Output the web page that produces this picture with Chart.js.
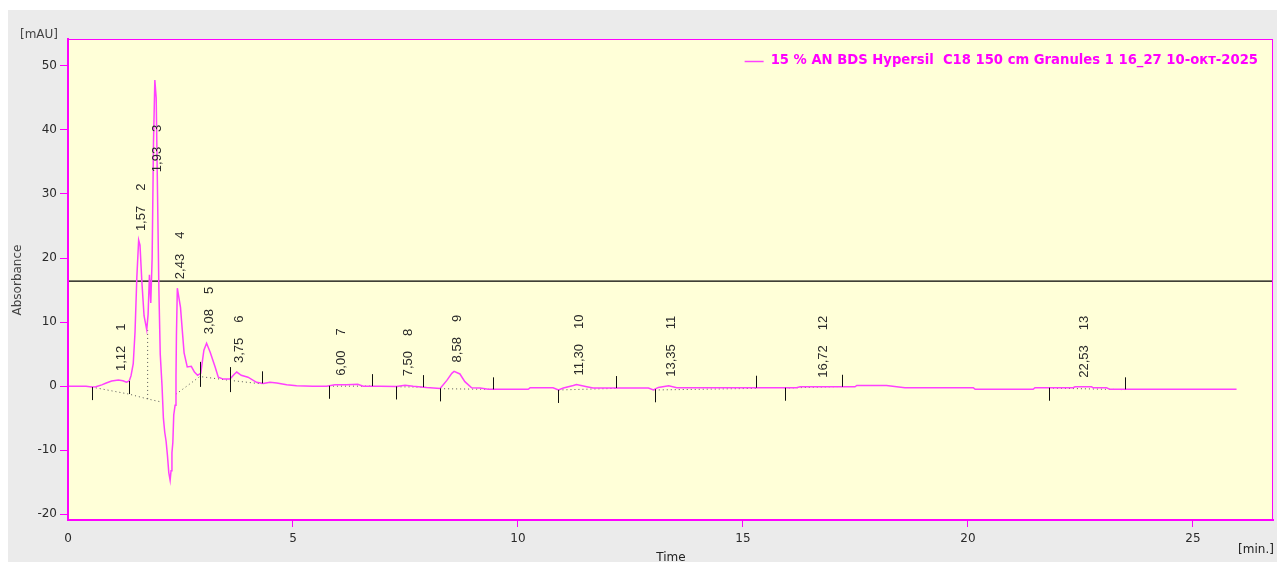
<!DOCTYPE html>
<html>
<head>
<meta charset="utf-8">
<script src="https://cdn.jsdelivr.net/npm/chart.js@4.4.1/dist/chart.umd.min.js"></script>
<style>
  html, body { margin: 0; padding: 0; background: #ffffff; overflow: hidden; }
  #wrap { width: 1277px; height: 562px; }
</style>
</head>
<body>
<div id="wrap"><canvas id="chrom" width="1277" height="562"></canvas></div>
<script>
// Chromatogram trace: retention time (min) and absorbance (mAU)
const timeMin = [
  0.00, 0.40, 0.53, 0.62, 0.75, 0.85, 0.97, 1.12, 1.22, 1.30,
  1.36, 1.40, 1.45, 1.49, 1.53, 1.57, 1.60, 1.64, 1.69, 1.75,
  1.78, 1.81, 1.84, 1.87, 1.90, 1.93, 1.96, 1.99, 2.02, 2.05,
  2.09, 2.12, 2.15, 2.18, 2.21, 2.24, 2.27, 2.29, 2.31, 2.33,
  2.35, 2.38, 2.40, 2.41, 2.43, 2.46, 2.50, 2.54, 2.58, 2.65,
  2.74, 2.81, 2.88, 2.95, 3.02, 3.08, 3.16, 3.27, 3.34, 3.45,
  3.60, 3.70, 3.75, 3.85, 4.00, 4.19, 4.34, 4.49, 4.64, 4.86,
  5.08, 5.44, 5.75, 5.93, 6.19, 6.44, 6.56, 6.93, 7.30, 7.49,
  7.67, 7.97, 8.27, 8.42, 8.53, 8.58, 8.71, 8.82, 8.97, 9.16,
  9.34, 10.23, 10.27, 10.78, 10.90, 11.01, 11.23, 11.30, 11.53, 11.67,
  12.90, 13.01, 13.12, 13.35, 13.53, 16.19, 16.27, 17.49, 17.53, 18.19,
  18.60, 20.12, 20.16, 21.45, 21.49, 22.34, 22.38, 22.75, 22.78, 23.08,
  23.16, 25.97
];
const absorbance = [
  0.0, 0.0, -0.15, -0.1, 0.2, 0.5, 0.8, 0.95, 0.85, 0.6,
  0.8, 1.6, 3.5, 8.5, 17.0, 22.8, 22.0, 16.5, 11.0, 8.8,
  11.2, 17.4, 13.0, 20.0, 38.0, 47.8, 45.0, 30.0, 15.0, 5.0,
  0.0, -5.0, -7.2, -8.6, -10.8, -13.5, -14.7, -13.2, -10.4, -8.8,
  -4.5, -3.0, 1.5, 8.0, 15.3, 14.0, 12.3, 8.7, 5.2, 3.0,
  3.1, 2.2, 1.7, 2.0, 5.6, 6.7, 5.3, 3.0, 1.4, 1.1,
  1.1, 1.9, 2.2, 1.7, 1.4, 0.6, 0.4, 0.6, 0.5, 0.2,
  0.05, 0.0, 0.0, 0.2, 0.2, 0.3, 0.0, 0.0, -0.05, 0.15,
  0.0, -0.2, -0.35, 0.9, 2.0, 2.3, 1.9, 0.7, -0.25, -0.3,
  -0.5, -0.5, -0.25, -0.25, -0.6, -0.3, 0.1, 0.25, -0.1, -0.3,
  -0.3, -0.6, -0.2, 0.05, -0.25, -0.25, -0.1, -0.1, 0.1, 0.1,
  -0.25, -0.25, -0.5, -0.5, -0.25, -0.25, -0.1, -0.1, -0.25, -0.25,
  -0.5, -0.5
];

// Integrated peaks
const peakNumbers = [1, 2, 3, 4, 5, 6, 7, 8, 9, 10, 11, 12, 13];
const peakTimes = [1.12, 1.57, 1.93, 2.43, 3.08, 3.75, 6.00, 7.50, 8.58, 11.30, 13.35, 16.72, 22.53];

// Integration boundary markers (start / end of peaks)
const boundaryTimes = [0.53, 1.36, 2.93, 3.60, 4.31, 5.80, 6.75, 7.30, 7.90, 8.27,
                       9.45, 10.90, 12.18, 13.04, 15.29, 15.93, 17.20, 21.80, 23.49];
const boundaryKinds = ['down', 'down', 'span', 'span', 'up', 'down', 'up', 'down', 'up', 'down',
                       'up', 'down', 'up', 'down', 'up', 'down', 'up', 'down', 'up'];

// Integration baselines (null separates segments)
const baselineTimes  = [0.53, 1.36, 1.77, 2.09, null, 1.77, 1.77, null,
                        2.40, 2.93, 3.60, 4.31, null, 5.80, 6.75, null,
                        7.30, 7.90, null, 8.27, 9.45, null, 10.90, 12.18, null,
                        13.04, 15.29, null, 15.93, 17.20, null, 21.80, 23.49];
const baselineValues = [-0.15, -1.25, -2.0, -2.5, null, -2.0, 8.9, null,
                        -1.25, 1.5, 0.9, 0.35, null, 0.0, 0.0, null,
                        -0.1, -0.15, null, -0.4, -0.5, null, -0.6, -0.35, null,
                        -0.6, -0.35, null, -0.3, -0.05, null, -0.3, -0.55];

const thresholdLevel = 16.4;
const xTicks = [0, 5, 10, 15, 20, 25];
const yTicks = [-20, -10, 0, 10, 20, 30, 40, 50];
const xRange = [0, 26.78];
const yRange = [-20.9, 54.2];
const seriesName = '15 % AN BDS Hypersil  C18 150 cm Granules 1 16_27 10-окт-2025';

const MAGENTA = '#ff00ff';
const TRACE = '#ff40ff';
const TEXT = '#2a2a2a';

function traceAt(t) {
  for (let i = 1; i < timeMin.length; i++) {
    if (t <= timeMin[i]) {
      const f = (t - timeMin[i - 1]) / (timeMin[i] - timeMin[i - 1]);
      return absorbance[i - 1] + f * (absorbance[i] - absorbance[i - 1]);
    }
  }
  return absorbance[absorbance.length - 1];
}

// split baseline arrays into dotted segments
const baselineSets = [];
let seg = [];
baselineTimes.forEach((t, i) => {
  if (t === null) { if (seg.length) baselineSets.push(seg); seg = []; }
  else seg.push({ x: t, y: baselineValues[i] });
});
if (seg.length) baselineSets.push(seg);

const datasets = [
  {
    label: seriesName,
    data: timeMin.map((t, i) => ({ x: t, y: absorbance[i] })),
    borderColor: TRACE, borderWidth: 1.5, pointRadius: 0, tension: 0, order: 0
  },
  {
    label: 'threshold',
    data: [{ x: xRange[0], y: thresholdLevel }, { x: xRange[1], y: thresholdLevel }],
    borderColor: '#000000', borderWidth: 1.2, pointRadius: 0, order: 1
  }
].concat(baselineSets.map(s => ({
  label: 'baseline',
  data: s,
  borderColor: '#555555', borderWidth: 1, borderDash: [1, 3], pointRadius: 0, order: 2
})));

const backgroundPlugin = {
  id: 'panelBackground',
  beforeDraw(chart) {
    const { ctx, chartArea: a } = chart;
    ctx.save();
    ctx.fillStyle = '#ffffff';
    ctx.fillRect(0, 0, chart.width, chart.height);
    ctx.fillStyle = '#ebebeb';
    ctx.fillRect(8, 10, chart.width - 8, chart.height - 10);
    ctx.fillStyle = '#ffffd8';
    ctx.fillRect(a.left, a.top, a.right - a.left, a.bottom - a.top);
    ctx.restore();
  },
  afterDraw(chart) {
    const { ctx, chartArea: a } = chart;
    ctx.save();
    ctx.strokeStyle = MAGENTA;
    ctx.lineWidth = 1;
    ctx.strokeRect(a.left + 0.5, a.top + 0.5, a.right - a.left - 1, a.bottom - a.top);
    ctx.restore();
  }
};

const markerPlugin = {
  id: 'integrationMarks',
  afterDatasetsDraw(chart) {
    const { ctx, scales: { x, y } } = chart;
    ctx.save();
    ctx.strokeStyle = '#111111';
    ctx.lineWidth = 1;
    boundaryTimes.forEach((t, i) => {
      const px = Math.round(x.getPixelForValue(t)) + 0.5;
      const py = y.getPixelForValue(traceAt(t));
      const kind = boundaryKinds[i];
      const y0 = kind === 'down' ? py : py - 12;
      const y1 = kind === 'up' ? py : py + 13;
      ctx.beginPath();
      ctx.moveTo(px, y0);
      ctx.lineTo(px, y1);
      ctx.stroke();
    });
    ctx.restore();
  }
};

const peakLabelPlugin = {
  id: 'peakLabels',
  afterDatasetsDraw(chart) {
    const { ctx, scales: { x, y } } = chart;
    ctx.save();
    ctx.fillStyle = TEXT;
    ctx.font = '13px "Liberation Sans", Arial, sans-serif';
    ctx.textAlign = 'left';
    ctx.textBaseline = 'middle';
    peakTimes.forEach((t, i) => {
      const h = Math.min(traceAt(t), 32);
      const px = x.getPixelForValue(t) + 3;
      const py = y.getPixelForValue(h) - 9;
      const txt = t.toFixed(2).replace('.', ',');
      const w = ctx.measureText(txt).width;
      ctx.save();
      ctx.translate(px, py);
      ctx.rotate(-Math.PI / 2);
      ctx.fillText(txt, 0, 0);
      ctx.fillText(String(peakNumbers[i]), w + 15, 0);
      ctx.restore();
    });
    ctx.restore();
  }
};

const annotationPlugin = {
  id: 'axisText',
  afterDraw(chart) {
    const { ctx, chartArea: a } = chart;
    ctx.save();
    ctx.fillStyle = '#444444';
    ctx.font = '12px "DejaVu Sans", sans-serif';
    ctx.textAlign = 'center';
    ctx.textBaseline = 'middle';
    ctx.fillText('[mAU]', 39, 35);
    ctx.save();
    ctx.translate(18, 280);
    ctx.rotate(-Math.PI / 2);
    ctx.fillText('Absorbance', 0, 0);
    ctx.restore();
    ctx.fillStyle = '#222222';
    ctx.font = '12px "DejaVu Sans", sans-serif';
    ctx.textBaseline = 'top';
    ctx.fillText('Time', 671, 552);
    ctx.textBaseline = 'middle';
    ctx.fillText('[min.]', 1256, 550);

    // series legend
    ctx.font = 'bold 13.2px "DejaVu Sans", sans-serif';
    ctx.fillStyle = MAGENTA;
    ctx.textAlign = 'right';
    const right = a.right - 15;
    ctx.fillText(seriesName, right, 61);
    const w = ctx.measureText(seriesName).width;
    ctx.strokeStyle = TRACE;
    ctx.lineWidth = 1.5;
    ctx.beginPath();
    ctx.moveTo(right - w - 26, 61.5);
    ctx.lineTo(right - w - 7, 61.5);
    ctx.stroke();
    ctx.restore();
  }
};

new Chart(document.getElementById('chrom'), {
  type: 'line',
  data: { datasets },
  plugins: [backgroundPlugin, markerPlugin, peakLabelPlugin, annotationPlugin],
  options: {
    responsive: false,
    animation: false,
    devicePixelRatio: 1,
    layout: { padding: { top: 39, right: 4, left: 0, bottom: 0 } },
    plugins: { legend: { display: false }, tooltip: { enabled: false } },
    scales: {
      x: {
        type: 'linear', min: xRange[0], max: xRange[1],
        afterBuildTicks: s => { s.ticks = xTicks.map(v => ({ value: v })); },
        afterFit: s => { s.height = 42; },
        ticks: { color: TEXT, font: { family: 'DejaVu Sans', size: 12 }, padding: 5,
                 maxRotation: 0, autoSkip: false, callback: v => String(v) },
        grid: { drawOnChartArea: false, drawTicks: true, tickLength: 7, lineWidth: 1,
                color: c => (c.tick && c.tick.value === 0) ? 'rgba(0,0,0,0)' : MAGENTA },
        border: { display: true, color: MAGENTA, width: 2 }
      },
      y: {
        type: 'linear', min: yRange[0], max: yRange[1],
        afterBuildTicks: s => { s.ticks = yTicks.map(v => ({ value: v })); },
        afterFit: s => { s.width = 68; },
        ticks: { color: TEXT, font: { family: 'DejaVu Sans', size: 12 }, padding: 3,
                 autoSkip: false, callback: v => String(v) },
        grid: { drawOnChartArea: false, drawTicks: true, tickLength: 8, lineWidth: 1, color: MAGENTA },
        border: { display: true, color: MAGENTA, width: 2 }
      }
    }
  }
});
</script>
</body>
</html>
